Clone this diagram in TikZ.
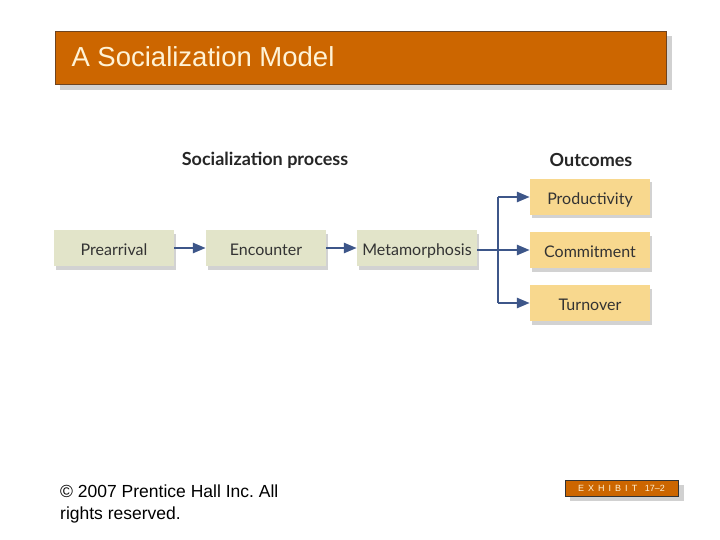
\documentclass[tikz,border=0pt]{standalone}
\usepackage{fontspec}
\setmainfont{Liberation Sans}
\newfontfamily\diafont{Lato}
\usetikzlibrary{arrows.meta,shadows}

\definecolor{slideorange}{HTML}{CC6600}
\definecolor{slideedge}{HTML}{6E4420}
\definecolor{slidecream}{HTML}{FFF3D6}
\definecolor{stepgreen}{HTML}{E2E4C9}
\definecolor{outyellow}{HTML}{F8D88E}
\definecolor{linkblue}{HTML}{3D5689}

\tikzset{
  stagebox/.style={fill=stepgreen, minimum width=120pt, minimum height=36pt,
    font=\diafont\fontsize{16}{18}\selectfont, text=black!80,
    text height=15pt, text depth=0pt,
    drop shadow={shadow xshift=2pt, shadow yshift=-3.5pt, opacity=0.35}},
  outbox/.style={stagebox, fill=outyellow},
  link/.style={linkblue, line width=2.6pt, -{Triangle[length=13pt,width=10pt]}},
  heading/.style={font=\diafont\bfseries\fontsize{18}{20}\selectfont, text=black!85},
}

\begin{document}
\begin{tikzpicture}[x=1pt, y=-1pt]
  \useasboundingbox (0,0) rectangle (720,540);
  \fill[white] (0,0) rectangle (720,540);

  % title bar
  \fill[black!18] (60,36) rectangle (672,90);
  \draw[slideedge, fill=slideorange, line width=0.6pt] (55,31) rectangle (666,84);
  \node[anchor=base west, text=slidecream, font=\fontsize{27.5}{30}\selectfont] (title) at (68,67) {A Socialization Model};

  % headings
  \node[heading] (proc) at (265,160) {Socialization process};
  \node[heading] (outc) at (591,160) {Outcomes};

  % process stages
  \node[stagebox] (prearr) at (114,248) {Prearrival};
  \node[stagebox] (encount) at (266,248) {Encounter};
  \node[stagebox] (metamor) at (417,248) {Metamorphosis};

  % outcomes
  \node[outbox] (prod) at (590,197) {Productivity};
  \node[outbox] (commit) at (590,250) {Commitment};
  \node[outbox] (turn) at (590,303) {Turnover};

  % links
  \draw[link] (prearr.east) -- (encount.west);
  \draw[link] (encount.east) -- (metamor.west);
  \coordinate (fork) at (498,250);
  \draw[linkblue, line width=2.6pt] (metamor.east |- fork) -- (fork);
  \draw[link] (fork |- prod.west) -- (prod.west);
  \draw[link] (fork) -- (commit.west);
  \draw[link] (fork |- turn.west) -- (turn.west);
  \draw[linkblue, line width=2.6pt] (fork |- prod.west) -- (fork |- turn.west);

  % footer
  \node[anchor=north west, align=left, font=\fontsize{17.5}{22}\selectfont, inner sep=0pt] (copy) at (60,485)
    {\textcopyright{} 2007 Prentice Hall Inc.\ All\\rights reserved.};
  \fill[black!18] (570,485) rectangle (684,501);
  \draw[black!80, fill=slideorange, line width=0.6pt] (565,480) rectangle (678,496);
  \node[text=slidecream, font=\fontsize{9}{10}\selectfont] (exhib) at (621.5,488.5) {E\,\ X\,\ H\,\ I\,\ B\,\ I\,\ T\ \ \ 17--2};
\end{tikzpicture}
\end{document}
